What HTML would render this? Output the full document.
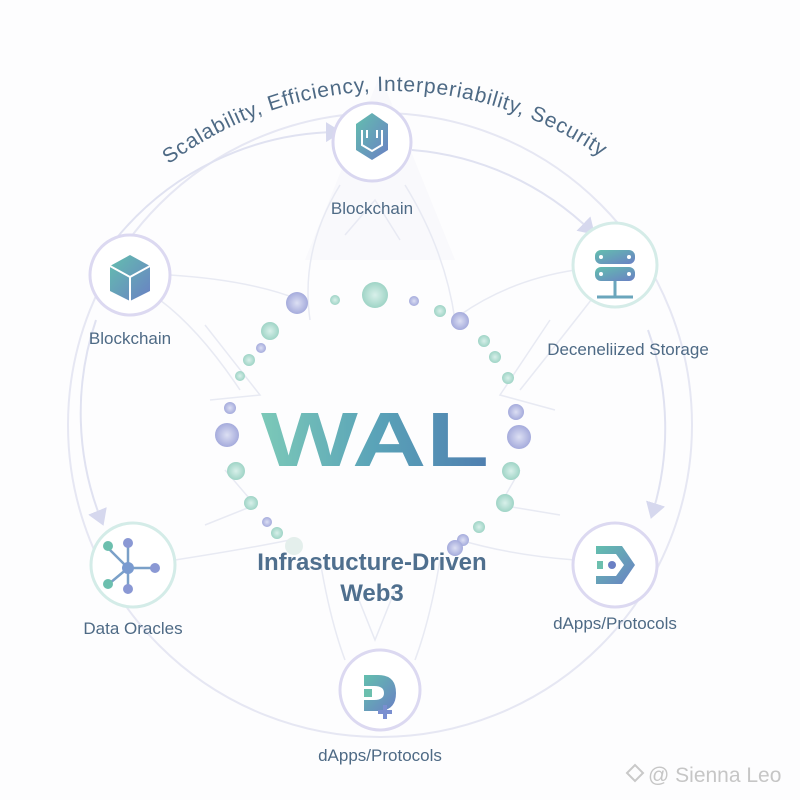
<!DOCTYPE html>
<html><head><meta charset="utf-8"><style>
html,body{margin:0;padding:0;background:#fff;}
svg{display:block;font-family:"Liberation Sans","DejaVu Sans",sans-serif;}
</style></head><body>
<svg width="800" height="800" viewBox="0 0 800 800">
<defs>
<linearGradient id="wal" x1="0" x2="1" y1="0" y2="0">
<stop offset="0" stop-color="#7cc9b8"/><stop offset="0.5" stop-color="#5aa3b8"/><stop offset="1" stop-color="#4f7fb0"/>
</linearGradient>
<linearGradient id="ic" x1="0" x2="1" y1="0" y2="1">
<stop offset="0" stop-color="#63bfae"/><stop offset="1" stop-color="#6a80c4"/>
</linearGradient>
<radialGradient id="dt" cx="0.5" cy="0.5" r="0.5"><stop offset="0" stop-color="#d8f0ea"/><stop offset="1" stop-color="#9fd4c6"/></radialGradient>
<radialGradient id="dp" cx="0.5" cy="0.5" r="0.5"><stop offset="0" stop-color="#dcdff3"/><stop offset="1" stop-color="#a5abdc"/></radialGradient>
<marker id="ar" markerWidth="10" markerHeight="10" refX="6" refY="5" orient="auto"><path d="M0,0 L8,5 L0,10 z" fill="#d6d8ee"/></marker>
<path id="arcT" d="M 120,208 A 370 370 0 0 1 660,208"/>
</defs>
<rect width="800" height="800" fill="#fdfdfe"/>
<path d="M380,75 L305,260 L455,260 Z" fill="#f5f6fa" opacity="0.5"/>
<circle cx="380" cy="425" r="312" fill="none" stroke="#e6e7f3" stroke-width="2"/>
<g fill="none" stroke="#e0e2f1" stroke-width="2">
<path d="M115,240 A 290 290 0 0 1 338,132" marker-end="url(#ar)"/>
<path d="M412,150 A 290 290 0 0 1 592,232" marker-end="url(#ar)"/>
<path d="M648,330 A 290 290 0 0 1 652,515" marker-end="url(#ar)"/>
<path d="M96,320 A 290 290 0 0 0 102,522" marker-end="url(#ar)"/>
</g>
<g fill="none" stroke="#e8eaf3" stroke-width="1.5">
<path d="M340,185 Q300,250 310,320"/><path d="M405,185 Q445,250 455,320"/>
<path d="M345,235 L375,200 L400,240"/>
<path d="M170,275 Q250,280 300,300"/><path d="M575,270 Q510,280 460,315"/>
<path d="M160,300 Q200,330 240,390"/><path d="M595,295 Q560,340 520,390"/>
<path d="M175,560 Q240,550 290,540"/><path d="M575,560 Q510,555 460,540"/>
<path d="M205,325 L260,395 L210,400"/><path d="M550,320 L500,395 L555,410"/>
<path d="M205,525 L255,505 L225,470"/><path d="M560,515 L500,505 L520,470"/>
<path d="M320,560 Q330,620 345,660"/><path d="M440,560 Q430,620 415,660"/>
<path d="M355,590 L375,640 L395,590"/>
</g>
<text font-size="21" fill="#4e6a85" text-anchor="middle" letter-spacing="0.8"><textPath href="#arcT" startOffset="49%">Scalability, Efficiency, Interperiability, Security</textPath></text>
<g fill="#fff" stroke-width="3">
<circle cx="372" cy="142" r="39" stroke="#d9d7f0"/>
<circle cx="130" cy="275" r="40" stroke="#dcd9f1"/>
<circle cx="615" cy="265" r="42" stroke="#d5ece8"/>
<circle cx="133" cy="565" r="42" stroke="#d4ece8"/>
<circle cx="615" cy="565" r="42" stroke="#dcd9f1"/>
<circle cx="380" cy="690" r="40" stroke="#dcd9f1"/>
</g>
<path d="M356,124 L372,113 L388,124 L388,150 L372,160 L356,150 Z" fill="url(#ic)"/>
<path d="M362,130 L362,145 L372,151 L382,145 L382,130" fill="none" stroke="#fff" stroke-width="2"/>
<path d="M367,130 L367,138 M377,130 L377,138" stroke="#fff" stroke-width="2"/>
<path d="M130,255 L150,266 L150,291 L130,301 L110,291 L110,266 Z" fill="url(#ic)"/>
<path d="M110,266 L130,277 L150,266 M130,277 L130,301" stroke="#fff" stroke-width="2" fill="none"/>
<rect x="595" y="250" width="40" height="14" rx="6" fill="url(#ic)"/>
<rect x="595" y="267" width="40" height="14" rx="6" fill="url(#ic)"/>
<circle cx="601" cy="257" r="2" fill="#fff"/><circle cx="629" cy="257" r="2" fill="#fff"/>
<circle cx="601" cy="274" r="2" fill="#fff"/><circle cx="629" cy="274" r="2" fill="#fff"/>
<path d="M615,281 L615,297 M597,297 L633,297" stroke="#6aa6bc" stroke-width="3"/>
<g stroke="#7aa0c8" stroke-width="2.5"><path d="M108,548 L128,568 M128,568 L128,544 M128,568 L154,568 M128,568 L110,583 M128,568 L128,588"/></g>
<circle cx="128" cy="568" r="6" fill="#7a9bd0"/><circle cx="108" cy="546" r="5" fill="#6cbfae"/><circle cx="128" cy="543" r="5" fill="#8a98d4"/><circle cx="155" cy="568" r="5" fill="#8a98d4"/><circle cx="108" cy="584" r="5" fill="#6cbfae"/><circle cx="128" cy="589" r="5" fill="#8a98d4"/>
<path d="M596,546 L622,546 L635,565 L622,584 L596,584 L596,576 L616,576 L624,565 L616,554 L596,554 Z" fill="url(#ic)"/>
<rect x="597" y="561" width="6" height="8" fill="#6cbfae"/><circle cx="612" cy="565" r="4" fill="#6a80c4"/>
<path d="M364,675 L378,675 Q396,675 396,693 Q396,711 378,711 L364,711 L364,700 L374,700 Q384,700 384,693 Q384,686 374,686 L364,686 Z" fill="url(#ic)"/>
<rect x="364" y="689" width="8" height="8" fill="#6cbfae"/>
<path d="M385,705 L385,719 M378,712 L392,712" stroke="#7a8fd0" stroke-width="4"/>
<g font-size="17" fill="#4e6a85" text-anchor="middle">
<text x="372" y="214">Blockchain</text>
<text x="130" y="344">Blockchain</text>
<text x="628" y="355">Deceneliized Storage</text>
<text x="133" y="634">Data Oracles</text>
<text x="615" y="629">dApps/Protocols</text>
<text x="380" y="761">dApps/Protocols</text>
</g>
<g>
<circle cx="297" cy="303" r="11" fill="url(#dp)"/><circle cx="335" cy="300" r="5" fill="url(#dt)"/><circle cx="375" cy="295" r="13" fill="url(#dt)"/><circle cx="414" cy="301" r="5" fill="url(#dp)"/><circle cx="440" cy="311" r="6" fill="url(#dt)"/><circle cx="460" cy="321" r="9" fill="url(#dp)"/>
<circle cx="270" cy="331" r="9" fill="url(#dt)"/><circle cx="261" cy="348" r="5" fill="url(#dp)"/><circle cx="249" cy="360" r="6" fill="url(#dt)"/><circle cx="240" cy="376" r="5" fill="url(#dt)"/><circle cx="230" cy="408" r="6" fill="url(#dp)"/><circle cx="227" cy="435" r="12" fill="url(#dp)"/><circle cx="236" cy="471" r="9" fill="url(#dt)"/><circle cx="251" cy="503" r="7" fill="url(#dt)"/><circle cx="267" cy="522" r="5" fill="url(#dp)"/><circle cx="277" cy="533" r="6" fill="url(#dt)"/><circle cx="294" cy="546" r="9" fill="#e4efec"/>
<circle cx="484" cy="341" r="6" fill="url(#dt)"/><circle cx="495" cy="357" r="6" fill="url(#dt)"/><circle cx="508" cy="378" r="6" fill="url(#dt)"/><circle cx="516" cy="412" r="8" fill="url(#dp)"/><circle cx="519" cy="437" r="12" fill="url(#dp)"/><circle cx="511" cy="471" r="9" fill="url(#dt)"/><circle cx="505" cy="503" r="9" fill="url(#dt)"/><circle cx="479" cy="527" r="6" fill="url(#dt)"/><circle cx="463" cy="540" r="6" fill="url(#dp)"/><circle cx="455" cy="548" r="8" fill="url(#dp)"/>
</g>
<text x="375" y="466" font-size="88" font-weight="bold" text-anchor="middle" fill="url(#wal)" textLength="228" lengthAdjust="spacingAndGlyphs" transform="translate(0,466) scale(1,0.88) translate(0,-466)">WAL</text>
<text x="372" y="570" font-size="24" font-weight="bold" text-anchor="middle" fill="#4f6f8e">Infrastucture-Driven</text>
<text x="372" y="601" font-size="24" font-weight="bold" text-anchor="middle" fill="#4f6f8e">Web3</text>
<path d="M627,773 L635,765 L643,773 L635,781 Z" fill="none" stroke="#c9c9c9" stroke-width="2"/>
<text x="648" y="782" font-size="21" fill="#c6c6c6">@ Sienna Leo</text>
</svg>
</body></html>
